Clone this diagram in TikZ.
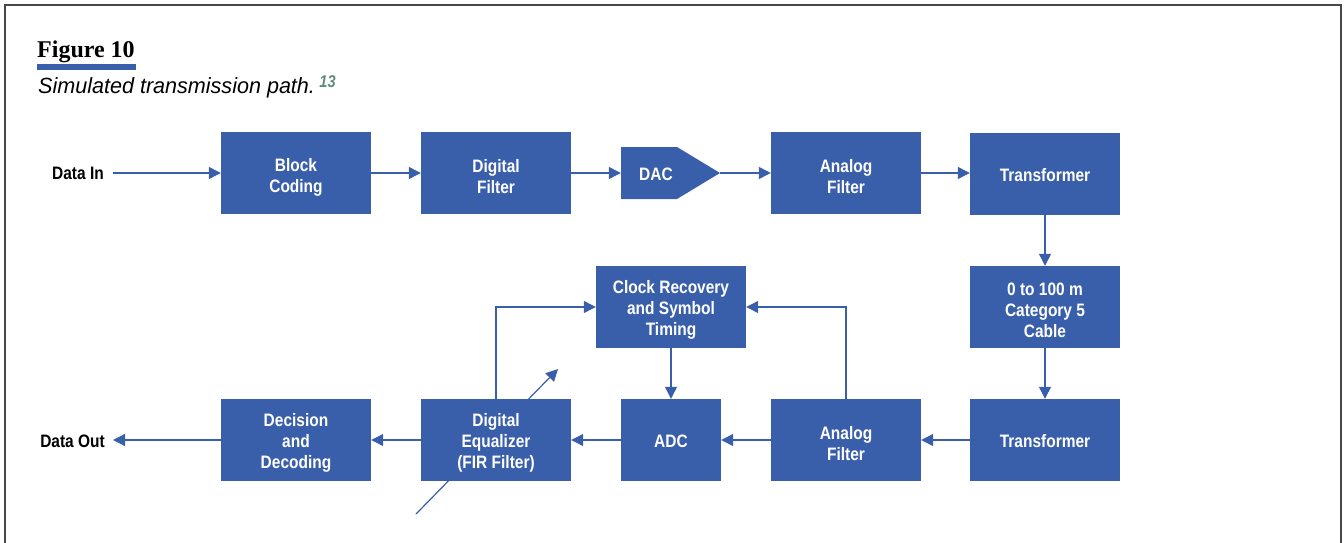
\documentclass[tikz,border=0pt]{standalone}
\usepackage{fontspec}
\setmainfont{Liberation Serif}
\newfontfamily\cond[FakeStretch=0.86]{Liberation Sans}
\newfontfamily\capfont[FakeStretch=0.98]{Liberation Sans}
\usetikzlibrary{arrows.meta}
\definecolor{hpblue}{RGB}{58,95,170}
\definecolor{refgreen}{RGB}{95,140,122}
\definecolor{framegray}{RGB}{70,70,70}
\tikzset{
  box/.style={fill=hpblue, draw=none, inner sep=0pt,
    minimum width=150pt, minimum height=82pt},
  boxtext/.style={text=white, align=center, inner sep=0pt,
    font=\cond\bfseries\fontsize{18}{21}\selectfont},
  lbl/.style={text=black, inner sep=0pt, font=\cond\bfseries\fontsize{18}{21}\selectfont},
  conn/.style={draw=hpblue, line width=1.2pt, -{Triangle[length=12pt,width=12pt]}}
}
% #1 name, #2 position, #3 width, #4 vertical text offset, #5 text
\newcommand\hpblock[5]{%
  \node[box, minimum width=#3] (#1) at (#2) {};
  \node[boxtext] (#1-text) at ([yshift=#4]#1.center) {#5};
}
\begin{document}
\begin{tikzpicture}[x=1pt,y=-1pt]
\useasboundingbox (0,0) rectangle (1344,543);
\draw[framegray, line width=1.6pt] (5,543) -- (5,5) -- (1341,5) -- (1341,543);
% title
\node[anchor=base west, inner sep=0pt, font=\bfseries\fontsize{24}{26}\selectfont] (title) at (37,58) {Figure 10};
\fill[hpblue] (37,64) rectangle (136,70);
\node[anchor=base west, inner sep=0pt, font=\capfont\itshape\fontsize{22}{24}\selectfont] (caption) at (38,93)
  {Simulated transmission path.};
\node[anchor=base west, inner sep=0pt, text=refgreen, font=\cond\bfseries\itshape\fontsize{17}{18}\selectfont] (ref) at (caption.base east) [xshift=4pt, yshift=5pt] {13};
% diagonal adjust arrow (behind equalizer)
\coordinate (adjA) at (416,514);
\coordinate (adjB) at (558,369);
\draw[conn] (adjA) -- (adjB);
% top row
\node[lbl, anchor=east] (datain) at (104,173) {Data In};
\hpblock{block}{296,173}{150pt}{-4pt}{Block\\Coding}
\hpblock{dfilt}{496,173}{150pt}{-4pt}{Digital\\Filter}
\fill[hpblue] (621,147) -- (677,147) -- (720,173) -- (677,199) -- (621,199) -- cycle;
\node[inner sep=0pt, minimum width=56pt, minimum height=52pt] (dac) at (649,173) {};
\node[boxtext] (dac-text) at (656,174) {DAC};
\coordinate (dactip) at (720,173);
\hpblock{afilt1}{846,173}{150pt}{-4pt}{Analog\\Filter}
\hpblock{trans1}{1045,174}{150pt}{-1pt}{Transformer}
% middle
\hpblock{cable}{1045,307}{150pt}{-3pt}{0 to 100 m\\Category 5\\Cable}
\hpblock{clock}{671,307}{150pt}{-3pt}{Clock Recovery\\and Symbol\\Timing}
% bottom row
\hpblock{trans2}{1045,440}{150pt}{-1pt}{Transformer}
\hpblock{afilt2}{846,440}{150pt}{-4pt}{Analog\\Filter}
\hpblock{adc}{671,440}{100pt}{-1pt}{ADC}
\hpblock{equal}{496,440}{150pt}{-3pt}{Digital\\Equalizer\\(FIR Filter)}
\hpblock{decis}{296,440}{150pt}{-3pt}{Decision\\and\\Decoding}
\node[lbl, anchor=east] (dataout) at (105,441) {Data Out};
% connectors
\draw[conn] ([xshift=9pt]datain.east) -- (block.west);
\draw[conn] (block.east) -- (dfilt.west);
\draw[conn] (dfilt.east) -- (dac.west);
\draw[conn] (dactip) -- (afilt1.west);
\draw[conn] (afilt1.east) -- (trans1.west |- afilt1.east);
\draw[conn] (trans1.south) -- (cable.north);
\draw[conn] (cable.south) -- (trans2.north);
\draw[conn] (trans2.west) -- (afilt2.east);
\draw[conn] (afilt2.west) -- (adc.east);
\draw[conn] (adc.west) -- (equal.east);
\draw[conn] (equal.west) -- (decis.east);
\draw[conn] (decis.west) -- ([xshift=8pt]dataout.east |- decis.west);
\draw[conn] (clock.south) -- (adc.north);
\draw[conn] (afilt2.north) |- (clock.east);
\draw[conn] (equal.north) |- (clock.west);
\end{tikzpicture}
\end{document}
